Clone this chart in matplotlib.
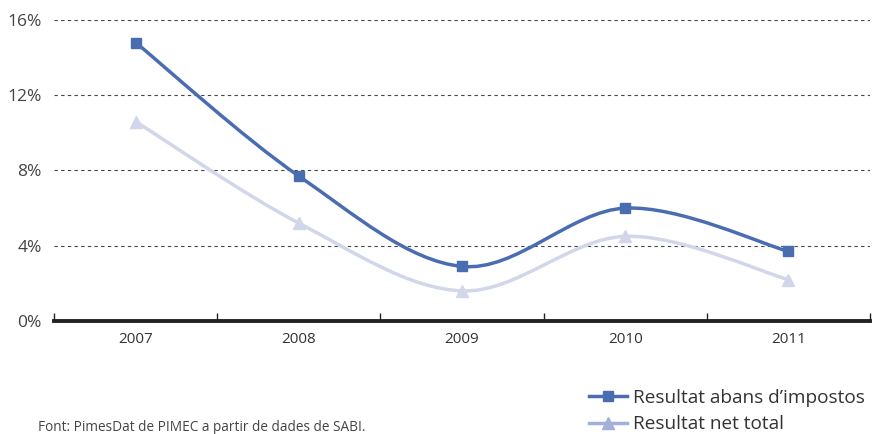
import numpy as np
import matplotlib.pyplot as plt
from matplotlib.path import Path
from matplotlib.patches import PathPatch
from matplotlib.lines import Line2D

plt.rcParams['font.family'] = ['Open Sans', 'DejaVu Sans']

years = ['2007', '2008', '2009', '2010', '2011']
abans_impostos = [14.8, 7.7, 2.9, 6.0, 3.7]
net_total = [10.6, 5.2, 1.6, 4.5, 2.2]
yticks = [0, 4, 8, 12, 16]

dark_blue = '#4a6db1'
light_blue = '#d1d6ea'


def smooth_path(xs, ys):
    # bezier control points similar to the spreadsheet "smoothed line"
    xs = np.asarray(xs, float)
    ys = np.asarray(ys, float)
    n = len(xs)
    verts = [(xs[0], ys[0])]
    codes = [Path.MOVETO]
    for i in range(n - 1):
        p0 = np.array([xs[max(i - 1, 0)], ys[max(i - 1, 0)]])
        p1 = np.array([xs[i], ys[i]])
        p2 = np.array([xs[i + 1], ys[i + 1]])
        p3 = np.array([xs[min(i + 2, n - 1)], ys[min(i + 2, n - 1)]])
        c1 = p1 + (p2 - p0) / 6.0
        c2 = p2 - (p3 - p1) / 6.0
        verts += [tuple(c1), tuple(c2), tuple(p2)]
        codes += [Path.CURVE4] * 3
    return Path(verts, codes)


fig = plt.figure(figsize=(8.73, 4.34), dpi=100)
ax = fig.add_axes([0.062, 0.2604, 0.9346, 0.6935])

x = np.arange(len(years))

for vals, col, mk, ms in [(net_total, light_blue, '^', 8),
                          (abans_impostos, dark_blue, 's', 7)]:
    ax.add_patch(PathPatch(smooth_path(x, vals), facecolor='none',
                           edgecolor=col, lw=2.5, zorder=3))
    ax.plot(x, vals, linestyle='none', marker=mk, color=col,
            markersize=ms, zorder=4)

ax.set_xlim(-0.5, 4.5)
ax.set_ylim(0, 16)
ax.set_yticks(yticks)
ax.set_yticklabels([f'{v}%' for v in yticks])
for v in yticks[1:]:
    ax.axhline(v, color='#444444', lw=0.8, ls=(0, (3, 3)), zorder=1)

ax.set_xticks(x)
ax.set_xticklabels(years)
ax.set_xticks(np.arange(-0.5, 5, 1), minor=True)
ax.tick_params(axis='x', which='major', length=0, pad=8,
               labelsize=11, labelcolor='#333333')
ax.tick_params(axis='x', which='minor', direction='in', length=6,
               width=1, color='#222222')
ax.tick_params(axis='y', length=0, pad=9, labelsize=12.5,
               labelcolor='#444444')

for s in ['top', 'right', 'left']:
    ax.spines[s].set_visible(False)
ax.spines['bottom'].set_linewidth(2.8)
ax.spines['bottom'].set_color('#222222')
ax.spines['bottom'].set_zorder(5)

handles = [Line2D([], [], color=dark_blue, lw=2.5, marker='s', markersize=7),
           Line2D([], [], color='#a3b1da', lw=2.5, marker='^', markersize=8)]
fig.legend(handles, ['Resultat abans d\u2019impostos', 'Resultat net total'],
           loc='lower left', bbox_to_anchor=(0.655, -0.038), frameon=False,
           fontsize=13.7, handlelength=2.0, handletextpad=0.3,
           labelspacing=0.45, labelcolor='#333333')

fig.text(0.044, 0.008, 'Font: PimesDat de PIMEC a partir de dades de SABI.',
         fontsize=9.8, color='#444444')

fig.savefig('out.png', dpi=100)
